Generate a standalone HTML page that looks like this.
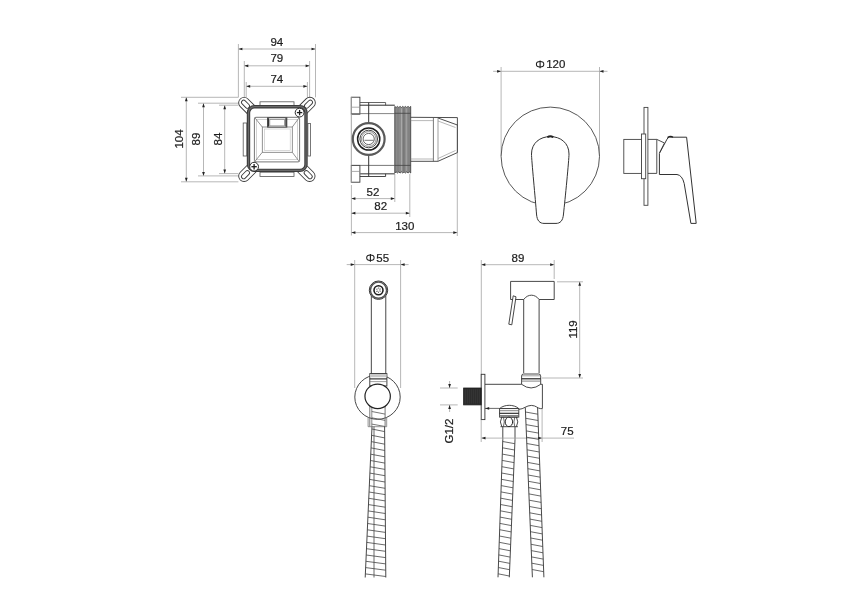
<!DOCTYPE html>
<html><head><meta charset="utf-8"><style>
html,body{margin:0;padding:0;background:#fff;width:866px;height:611px;overflow:hidden}
svg{display:block;filter:blur(0.35px)}
text{font-family:"Liberation Sans",sans-serif}
</style></head><body>
<svg width="866" height="611" viewBox="0 0 866 611">
<rect width="866" height="611" fill="#fff"/>
<line x1="238.40" y1="49.00" x2="315.50" y2="49.00" stroke="#a4a4a4" stroke-width="0.8"/>
<polygon points="238.40,49.00 242.40,47.65 242.40,50.35" fill="#222"/>
<polygon points="315.50,49.00 311.50,50.35 311.50,47.65" fill="#222"/>
<line x1="238.40" y1="44.00" x2="238.40" y2="97.30" stroke="#a4a4a4" stroke-width="0.8"/>
<line x1="315.50" y1="44.00" x2="315.50" y2="97.30" stroke="#a4a4a4" stroke-width="0.8"/>
<text x="276.80" y="45.60" font-size="11.5" text-anchor="middle" fill="#1e1e1e" stroke="#1e1e1e" stroke-width="0.22">94</text>
<line x1="244.30" y1="65.80" x2="309.60" y2="65.80" stroke="#a4a4a4" stroke-width="0.8"/>
<polygon points="244.30,65.80 248.30,64.45 248.30,67.15" fill="#222"/>
<polygon points="309.60,65.80 305.60,67.15 305.60,64.45" fill="#222"/>
<line x1="244.30" y1="61.00" x2="244.30" y2="97.30" stroke="#a4a4a4" stroke-width="0.8"/>
<line x1="309.60" y1="61.00" x2="309.60" y2="97.30" stroke="#a4a4a4" stroke-width="0.8"/>
<text x="276.80" y="62.30" font-size="11.5" text-anchor="middle" fill="#1e1e1e" stroke="#1e1e1e" stroke-width="0.22">79</text>
<line x1="246.20" y1="86.30" x2="307.40" y2="86.30" stroke="#a4a4a4" stroke-width="0.8"/>
<polygon points="246.20,86.30 250.20,84.95 250.20,87.65" fill="#222"/>
<polygon points="307.40,86.30 303.40,87.65 303.40,84.95" fill="#222"/>
<line x1="246.20" y1="82.00" x2="246.20" y2="97.30" stroke="#a4a4a4" stroke-width="0.8"/>
<line x1="307.40" y1="82.00" x2="307.40" y2="97.30" stroke="#a4a4a4" stroke-width="0.8"/>
<text x="276.80" y="83.10" font-size="11.5" text-anchor="middle" fill="#1e1e1e" stroke="#1e1e1e" stroke-width="0.22">74</text>
<line x1="186.30" y1="97.30" x2="186.30" y2="181.80" stroke="#a4a4a4" stroke-width="0.8"/>
<polygon points="186.30,97.30 187.65,101.30 184.95,101.30" fill="#222"/>
<polygon points="186.30,181.80 184.95,177.80 187.65,177.80" fill="#222"/>
<line x1="181.00" y1="97.30" x2="238.40" y2="97.30" stroke="#a4a4a4" stroke-width="0.8"/>
<line x1="181.00" y1="181.80" x2="238.40" y2="181.80" stroke="#a4a4a4" stroke-width="0.8"/>
<text x="183.30" y="139.00" font-size="11.5" text-anchor="middle" fill="#1e1e1e" stroke="#1e1e1e" stroke-width="0.22" transform="rotate(-90 183.30 139.00)">104</text>
<line x1="203.50" y1="103.20" x2="203.50" y2="175.90" stroke="#a4a4a4" stroke-width="0.8"/>
<polygon points="203.50,103.20 204.85,107.20 202.15,107.20" fill="#222"/>
<polygon points="203.50,175.90 202.15,171.90 204.85,171.90" fill="#222"/>
<line x1="198.00" y1="103.20" x2="238.40" y2="103.20" stroke="#a4a4a4" stroke-width="0.8"/>
<line x1="198.00" y1="175.90" x2="238.40" y2="175.90" stroke="#a4a4a4" stroke-width="0.8"/>
<text x="200.20" y="139.00" font-size="11.5" text-anchor="middle" fill="#1e1e1e" stroke="#1e1e1e" stroke-width="0.22" transform="rotate(-90 200.20 139.00)">89</text>
<line x1="224.70" y1="105.20" x2="224.70" y2="173.60" stroke="#a4a4a4" stroke-width="0.8"/>
<polygon points="224.70,105.20 226.05,109.20 223.35,109.20" fill="#222"/>
<polygon points="224.70,173.60 223.35,169.60 226.05,169.60" fill="#222"/>
<line x1="219.00" y1="105.20" x2="238.40" y2="105.20" stroke="#a4a4a4" stroke-width="0.8"/>
<line x1="219.00" y1="173.60" x2="238.40" y2="173.60" stroke="#a4a4a4" stroke-width="0.8"/>
<text x="221.50" y="139.00" font-size="11.5" text-anchor="middle" fill="#1e1e1e" stroke="#1e1e1e" stroke-width="0.22" transform="rotate(-90 221.50 139.00)">84</text>
<path d="M244.10,102.80 L252.59,111.29" stroke="#3a3a3a" stroke-width="11.8" fill="none" stroke-linecap="round"/>
<path d="M244.10,102.80 L252.59,111.29" stroke="#fff" stroke-width="10.0" fill="none" stroke-linecap="round"/>
<path d="M243.68,102.38 L247.35,106.05" stroke="#3a3a3a" stroke-width="5.300000000000001" fill="none" stroke-linecap="round"/>
<path d="M243.68,102.38 L247.35,106.05" stroke="#fff" stroke-width="3.5000000000000004" fill="none" stroke-linecap="round"/>
<path d="M309.90,102.70 L301.41,111.19" stroke="#3a3a3a" stroke-width="11.8" fill="none" stroke-linecap="round"/>
<path d="M309.90,102.70 L301.41,111.19" stroke="#fff" stroke-width="10.0" fill="none" stroke-linecap="round"/>
<path d="M310.32,102.28 L306.65,105.95" stroke="#3a3a3a" stroke-width="5.300000000000001" fill="none" stroke-linecap="round"/>
<path d="M310.32,102.28 L306.65,105.95" stroke="#fff" stroke-width="3.5000000000000004" fill="none" stroke-linecap="round"/>
<path d="M244.10,176.10 L252.59,167.61" stroke="#3a3a3a" stroke-width="11.8" fill="none" stroke-linecap="round"/>
<path d="M244.10,176.10 L252.59,167.61" stroke="#fff" stroke-width="10.0" fill="none" stroke-linecap="round"/>
<path d="M243.68,176.52 L247.35,172.85" stroke="#3a3a3a" stroke-width="5.300000000000001" fill="none" stroke-linecap="round"/>
<path d="M243.68,176.52 L247.35,172.85" stroke="#fff" stroke-width="3.5000000000000004" fill="none" stroke-linecap="round"/>
<path d="M309.60,176.10 L301.11,167.61" stroke="#3a3a3a" stroke-width="11.8" fill="none" stroke-linecap="round"/>
<path d="M309.60,176.10 L301.11,167.61" stroke="#fff" stroke-width="10.0" fill="none" stroke-linecap="round"/>
<path d="M310.02,176.52 L306.35,172.85" stroke="#3a3a3a" stroke-width="5.300000000000001" fill="none" stroke-linecap="round"/>
<path d="M310.02,176.52 L306.35,172.85" stroke="#fff" stroke-width="3.5000000000000004" fill="none" stroke-linecap="round"/>
<rect x="260.00" y="101.80" width="34.00" height="3.70" rx="0" stroke="#555" stroke-width="0.8" fill="none"/>
<rect x="260.00" y="172.20" width="34.00" height="4.40" rx="0" stroke="#555" stroke-width="0.8" fill="none"/>
<rect x="243.20" y="123.00" width="3.60" height="33.00" rx="0" stroke="#555" stroke-width="0.8" fill="none"/>
<rect x="307.90" y="123.50" width="2.50" height="32.50" rx="0" stroke="#555" stroke-width="0.8" fill="none"/>
<rect x="248.50" y="106.70" width="57.50" height="63.70" rx="6" stroke="#3c3c3c" stroke-width="3.4" fill="#fff"/>
<rect x="248.50" y="106.70" width="57.50" height="63.70" rx="6" stroke="#6a6a6a" stroke-width="1.2" fill="none"/>
<rect x="254.40" y="117.30" width="45.20" height="44.60" rx="1.5" stroke="#666" stroke-width="0.9" fill="none"/>
<rect x="256.60" y="119.50" width="40.80" height="40.20" rx="0" stroke="#b5b5b5" stroke-width="0.6" fill="none"/>
<rect x="262.30" y="127.00" width="30.00" height="25.30" rx="0" stroke="#777" stroke-width="0.8" fill="none"/>
<rect x="264.40" y="129.00" width="25.80" height="21.30" rx="0" stroke="#c0c0c0" stroke-width="0.6" fill="none"/>
<line x1="254.80" y1="117.70" x2="262.30" y2="127.00" stroke="#777" stroke-width="0.8"/>
<line x1="299.20" y1="117.70" x2="292.30" y2="127.00" stroke="#777" stroke-width="0.8"/>
<line x1="254.80" y1="161.50" x2="262.30" y2="152.30" stroke="#777" stroke-width="0.8"/>
<line x1="299.20" y1="161.50" x2="292.30" y2="152.30" stroke="#777" stroke-width="0.8"/>
<rect x="267.60" y="117.70" width="19.20" height="9.40" rx="0" stroke="#444" stroke-width="1.0" fill="#fff"/>
<line x1="268.40" y1="118.20" x2="268.40" y2="126.60" stroke="#333" stroke-width="1.4"/>
<line x1="286.00" y1="118.20" x2="286.00" y2="126.60" stroke="#333" stroke-width="1.4"/>
<rect x="269.80" y="119.40" width="14.80" height="6.50" rx="0" stroke="#777" stroke-width="0.7" fill="none"/>
<circle cx="299.60" cy="112.60" r="4.40" stroke="#2a2a2a" stroke-width="1.0" fill="#fff"/>
<line x1="296.90" y1="112.60" x2="302.30" y2="112.60" stroke="#1a1a1a" stroke-width="1.3"/>
<line x1="299.60" y1="109.90" x2="299.60" y2="115.30" stroke="#1a1a1a" stroke-width="1.3"/>
<circle cx="254.10" cy="166.70" r="4.40" stroke="#2a2a2a" stroke-width="1.0" fill="#fff"/>
<line x1="251.40" y1="166.70" x2="256.80" y2="166.70" stroke="#1a1a1a" stroke-width="1.3"/>
<line x1="254.10" y1="164.00" x2="254.10" y2="169.40" stroke="#1a1a1a" stroke-width="1.3"/>
<line x1="351.40" y1="198.60" x2="394.80" y2="198.60" stroke="#a4a4a4" stroke-width="0.8"/>
<polygon points="351.40,198.60 355.40,197.25 355.40,199.95" fill="#222"/>
<polygon points="394.80,198.60 390.80,199.95 390.80,197.25" fill="#222"/>
<line x1="351.40" y1="185.00" x2="351.40" y2="235.50" stroke="#a4a4a4" stroke-width="0.8"/>
<line x1="394.80" y1="174.00" x2="394.80" y2="202.00" stroke="#a4a4a4" stroke-width="0.8"/>
<text x="372.90" y="195.60" font-size="11.5" text-anchor="middle" fill="#1e1e1e" stroke="#1e1e1e" stroke-width="0.22">52</text>
<line x1="351.40" y1="213.20" x2="409.80" y2="213.20" stroke="#a4a4a4" stroke-width="0.8"/>
<polygon points="351.40,213.20 355.40,211.85 355.40,214.55" fill="#222"/>
<polygon points="409.80,213.20 405.80,214.55 405.80,211.85" fill="#222"/>
<line x1="409.80" y1="174.00" x2="409.80" y2="217.00" stroke="#a4a4a4" stroke-width="0.8"/>
<text x="380.70" y="210.30" font-size="11.5" text-anchor="middle" fill="#1e1e1e" stroke="#1e1e1e" stroke-width="0.22">82</text>
<line x1="351.40" y1="232.60" x2="457.30" y2="232.60" stroke="#a4a4a4" stroke-width="0.8"/>
<polygon points="351.40,232.60 355.40,231.25 355.40,233.95" fill="#222"/>
<polygon points="457.30,232.60 453.30,233.95 453.30,231.25" fill="#222"/>
<line x1="457.30" y1="125.00" x2="457.30" y2="236.00" stroke="#a4a4a4" stroke-width="0.8"/>
<text x="404.80" y="229.60" font-size="11.5" text-anchor="middle" fill="#1e1e1e" stroke="#1e1e1e" stroke-width="0.22">130</text>
<rect x="351.30" y="97.20" width="8.60" height="17.00" rx="0" stroke="#3a3a3a" stroke-width="0.9" fill="none"/>
<line x1="351.30" y1="107.20" x2="359.90" y2="107.20" stroke="#888" stroke-width="0.7"/>
<rect x="351.30" y="165.40" width="8.60" height="16.80" rx="0" stroke="#3a3a3a" stroke-width="0.9" fill="none"/>
<line x1="351.30" y1="171.40" x2="359.90" y2="171.40" stroke="#888" stroke-width="0.7"/>
<line x1="351.30" y1="97.10" x2="351.30" y2="182.40" stroke="#a4a4a4" stroke-width="1.0"/>
<path d="M359.9,102.5 L385.6,102.5 L385.6,105.2" stroke="#555" stroke-width="0.9" fill="none"/>
<line x1="359.90" y1="105.20" x2="394.80" y2="105.20" stroke="#2a2a2a" stroke-width="1.0"/>
<line x1="351.30" y1="113.60" x2="394.80" y2="113.60" stroke="#666" stroke-width="0.8"/>
<line x1="351.30" y1="165.40" x2="394.80" y2="165.40" stroke="#555" stroke-width="0.8"/>
<line x1="359.90" y1="173.80" x2="394.80" y2="173.80" stroke="#777" stroke-width="1.4"/>
<path d="M359.9,176.5 L385.6,176.5 L385.6,173.8" stroke="#333" stroke-width="0.9" fill="none"/>
<line x1="368.70" y1="102.50" x2="368.70" y2="123.00" stroke="#333" stroke-width="1.0"/>
<line x1="368.70" y1="155.00" x2="368.70" y2="176.50" stroke="#333" stroke-width="1.0"/>
<circle cx="368.70" cy="139.00" r="15.90" stroke="#5a5a5a" stroke-width="2.2" fill="#fff"/>
<circle cx="368.70" cy="139.00" r="11.10" stroke="#1e1e1e" stroke-width="1.5" fill="none"/>
<circle cx="368.70" cy="139.00" r="8.80" stroke="#444" stroke-width="1.0" fill="none"/>
<circle cx="368.70" cy="139.00" r="7.40" stroke="#777" stroke-width="0.8" fill="none"/>
<circle cx="368.70" cy="139.00" r="5.60" stroke="#555" stroke-width="0.9" fill="none"/>
<line x1="364.50" y1="140.30" x2="373.50" y2="140.30" stroke="#555" stroke-width="0.8"/>
<path d="M394.8,106.4 Q396.12,108.6 397.45,106.4 Q398.77,108.6 400.10,106.4 Q401.43,108.6 402.75,106.4 Q404.07,108.6 405.40,106.4 Q406.73,108.6 408.05,106.4 Q409.38,108.6 410.70,106.4 L410.7,173.0 Q409.38,170.8 408.05,173.0 Q406.73,170.8 405.40,173.0 Q404.07,170.8 402.75,173.0 Q401.43,170.8 400.10,173.0 Q398.77,170.8 397.45,173.0 Q396.12,170.8 394.80,173.0 Z" stroke="#444" stroke-width="0.9" fill="#8a8a8a"/>
<line x1="398.00" y1="108.20" x2="398.00" y2="171.20" stroke="#7a7a7a" stroke-width="0.8"/>
<line x1="401.50" y1="108.20" x2="401.50" y2="171.20" stroke="#b0b0b0" stroke-width="0.8"/>
<line x1="403.90" y1="108.20" x2="403.90" y2="171.20" stroke="#666" stroke-width="0.8"/>
<line x1="406.30" y1="108.20" x2="406.30" y2="171.20" stroke="#aaa" stroke-width="0.8"/>
<line x1="409.00" y1="108.20" x2="409.00" y2="171.20" stroke="#777" stroke-width="0.8"/>
<line x1="394.80" y1="113.30" x2="410.70" y2="113.30" stroke="#444" stroke-width="0.8"/>
<line x1="394.80" y1="165.40" x2="410.70" y2="165.40" stroke="#444" stroke-width="0.8"/>
<path d="M410.7,117.3 L457.4,117.6 L457.4,125.0 L438.0,118.0" stroke="#3a3a3a" stroke-width="0.9" fill="none"/>
<path d="M410.7,161.3 L438.0,161.3 L457.4,152.6 L457.4,125.0" stroke="#3a3a3a" stroke-width="0.9" fill="none"/>
<line x1="433.40" y1="117.40" x2="433.40" y2="161.30" stroke="#555" stroke-width="0.8"/>
<line x1="438.00" y1="118.00" x2="438.00" y2="161.30" stroke="#777" stroke-width="0.7"/>
<line x1="410.70" y1="120.60" x2="433.40" y2="120.60" stroke="#888" stroke-width="0.6"/>
<line x1="410.70" y1="159.00" x2="433.40" y2="159.00" stroke="#888" stroke-width="0.6"/>
<line x1="438.00" y1="121.00" x2="455.50" y2="127.50" stroke="#888" stroke-width="0.6"/>
<line x1="438.00" y1="158.50" x2="455.50" y2="150.50" stroke="#888" stroke-width="0.6"/>
<line x1="493.10" y1="71.30" x2="607.50" y2="71.30" stroke="#a4a4a4" stroke-width="0.8"/>
<polygon points="501.10,71.30 497.10,72.65 497.10,69.95" fill="#222"/>
<polygon points="599.50,71.30 603.50,69.95 603.50,72.65" fill="#222"/>
<line x1="501.10" y1="67.00" x2="501.10" y2="156.00" stroke="#a4a4a4" stroke-width="0.8"/>
<line x1="599.50" y1="67.00" x2="599.50" y2="156.00" stroke="#a4a4a4" stroke-width="0.8"/>
<ellipse cx="540.1" cy="64.3" rx="3.7" ry="2.75" stroke="#1e1e1e" stroke-width="1.05" fill="none"/>
<line x1="540.10" y1="60.40" x2="540.10" y2="68.20" stroke="#1e1e1e" stroke-width="1.1"/>
<text x="565.40" y="68.20" font-size="11.5" text-anchor="end" fill="#1e1e1e" stroke="#1e1e1e" stroke-width="0.22">120</text>
<circle cx="550.30" cy="156.30" r="49.20" stroke="#444" stroke-width="0.9" fill="#fff"/>
<path d="M550.3,136.6 C540,136.6 531.5,143 531.5,154 C531.5,160 535.5,200 536.5,214 C537,221 540,223.4 544,223.4 L556,223.4 C560,223.4 563,221 563.5,214 C565,200 569,160 569,154 C569,143 560.6,136.6 550.3,136.6 Z" stroke="#333" stroke-width="1.0" fill="#fff"/>
<path d="M547.3,137.3 Q550.3,135.0 553.3,137.3" stroke="#222" stroke-width="1.9" fill="none"/>
<rect x="644.00" y="107.40" width="3.90" height="97.90" rx="0" stroke="#444" stroke-width="0.9" fill="#fff"/>
<rect x="641.50" y="134.00" width="4.20" height="44.70" rx="0" stroke="#444" stroke-width="0.9" fill="#fff"/>
<rect x="623.80" y="139.40" width="17.70" height="34.00" rx="0" stroke="#444" stroke-width="0.9" fill="#fff"/>
<path d="M647.9,139.4 L656.8,139.4 L656.8,173.4 L647.9,173.4" stroke="#3a3a3a" stroke-width="0.9" fill="none"/>
<path d="M656.8,139.4 L664.5,143 L659.4,153" stroke="#3a3a3a" stroke-width="0.9" fill="none"/>
<path d="M669.5,137.2 L686.6,137.2 L696.2,223.4 L690.9,223.4 L684.2,183.5 Q682.2,175.2 677.0,174.5 L659.4,174.5 L659.4,153.5 L667.0,139.2 Q667.8,137.4 669.5,137.2 Z" stroke="#333" stroke-width="1.0" fill="#fff"/>
<path d="M667.5,137.6 Q670.5,135.5 673,137.2" stroke="#222" stroke-width="1.3" fill="none"/>
<line x1="346.70" y1="264.60" x2="408.60" y2="264.60" stroke="#a4a4a4" stroke-width="0.8"/>
<polygon points="354.70,264.60 350.70,265.95 350.70,263.25" fill="#222"/>
<polygon points="400.60,264.60 404.60,263.25 404.60,265.95" fill="#222"/>
<line x1="354.70" y1="260.00" x2="354.70" y2="388.00" stroke="#a4a4a4" stroke-width="0.8"/>
<line x1="400.60" y1="260.00" x2="400.60" y2="388.00" stroke="#a4a4a4" stroke-width="0.8"/>
<ellipse cx="370.4" cy="257.8" rx="3.7" ry="2.75" stroke="#1e1e1e" stroke-width="1.05" fill="none"/>
<line x1="370.40" y1="253.90" x2="370.40" y2="261.70" stroke="#1e1e1e" stroke-width="1.1"/>
<text x="389.10" y="261.80" font-size="11.5" text-anchor="end" fill="#1e1e1e" stroke="#1e1e1e" stroke-width="0.22">55</text>
<ellipse cx="377.5" cy="397.1" rx="22.7" ry="22.2" stroke="#333" stroke-width="0.9" fill="#fff"/>
<rect x="371.30" y="296.00" width="14.50" height="78.00" rx="0" stroke="#333" stroke-width="0.9" fill="#fff"/>
<circle cx="378.50" cy="290.20" r="9.20" stroke="#333" stroke-width="1.0" fill="#fff"/>
<circle cx="378.50" cy="290.20" r="8.10" stroke="#555" stroke-width="1.5" fill="none"/>
<circle cx="378.50" cy="290.20" r="4.50" stroke="#1e1e1e" stroke-width="1.6" fill="#fff"/>
<line x1="379.70" y1="290.20" x2="380.81" y2="291.78" stroke="#444" stroke-width="0.7"/>
<line x1="379.10" y1="291.24" x2="378.29" y2="292.99" stroke="#444" stroke-width="0.7"/>
<line x1="377.90" y1="291.24" x2="375.98" y2="291.41" stroke="#444" stroke-width="0.7"/>
<line x1="377.30" y1="290.20" x2="376.19" y2="288.62" stroke="#444" stroke-width="0.7"/>
<line x1="377.90" y1="289.16" x2="378.71" y2="287.41" stroke="#444" stroke-width="0.7"/>
<line x1="379.10" y1="289.16" x2="381.02" y2="288.99" stroke="#444" stroke-width="0.7"/>
<rect x="369.80" y="373.60" width="17.10" height="12.40" rx="0" stroke="#333" stroke-width="0.9" fill="#fff"/>
<rect x="370.3" y="374.0" width="16.1" height="3.2" fill="#c8c8c8"/>
<line x1="369.80" y1="378.90" x2="386.90" y2="378.90" stroke="#222" stroke-width="1.1"/>
<line x1="369.80" y1="381.60" x2="386.90" y2="381.60" stroke="#777" stroke-width="0.7"/>
<line x1="369.80" y1="406.00" x2="369.80" y2="426.50" stroke="#555" stroke-width="0.8"/>
<line x1="371.80" y1="406.00" x2="371.80" y2="426.50" stroke="#555" stroke-width="0.7"/>
<line x1="385.10" y1="406.00" x2="385.10" y2="426.50" stroke="#555" stroke-width="0.8"/>
<line x1="371.80" y1="411.50" x2="385.10" y2="414.10" stroke="#555" stroke-width="0.8"/>
<line x1="371.80" y1="417.80" x2="385.10" y2="420.40" stroke="#555" stroke-width="0.8"/>
<line x1="371.80" y1="424.10" x2="385.10" y2="426.50" stroke="#555" stroke-width="0.8"/>
<ellipse cx="377.65" cy="396.35" rx="12.7" ry="12.3" stroke="#222" stroke-width="1.2" fill="#fff"/>
<path d="M368.1,417.5 L368.1,426.7 L386.7,426.7 L386.7,417.5" stroke="#777" stroke-width="0.8" fill="none"/>
<path d="M372.00,426.50 L365.20,577.50" stroke="#333" stroke-width="0.9" fill="none"/>
<path d="M384.60,426.50 L385.80,577.50" stroke="#333" stroke-width="0.9" fill="none"/>
<path d="M374.00,426.50 L374.00,577.50" stroke="#444" stroke-width="0.8" fill="none"/>
<line x1="371.89" y1="429.00" x2="384.64" y2="431.60" stroke="#444" stroke-width="0.8"/>
<line x1="371.60" y1="435.30" x2="384.69" y2="437.90" stroke="#444" stroke-width="0.8"/>
<line x1="371.32" y1="441.60" x2="384.74" y2="444.20" stroke="#444" stroke-width="0.8"/>
<line x1="371.04" y1="447.90" x2="384.79" y2="450.50" stroke="#444" stroke-width="0.8"/>
<line x1="370.75" y1="454.20" x2="384.84" y2="456.80" stroke="#444" stroke-width="0.8"/>
<line x1="370.47" y1="460.50" x2="384.89" y2="463.10" stroke="#444" stroke-width="0.8"/>
<line x1="370.19" y1="466.80" x2="384.94" y2="469.40" stroke="#444" stroke-width="0.8"/>
<line x1="369.90" y1="473.10" x2="384.99" y2="475.70" stroke="#444" stroke-width="0.8"/>
<line x1="369.62" y1="479.40" x2="385.04" y2="482.00" stroke="#444" stroke-width="0.8"/>
<line x1="369.33" y1="485.70" x2="385.09" y2="488.30" stroke="#444" stroke-width="0.8"/>
<line x1="369.05" y1="492.00" x2="385.14" y2="494.60" stroke="#444" stroke-width="0.8"/>
<line x1="368.77" y1="498.30" x2="385.19" y2="500.90" stroke="#444" stroke-width="0.8"/>
<line x1="368.48" y1="504.60" x2="385.24" y2="507.20" stroke="#444" stroke-width="0.8"/>
<line x1="368.20" y1="510.90" x2="385.29" y2="513.50" stroke="#444" stroke-width="0.8"/>
<line x1="367.92" y1="517.20" x2="385.34" y2="519.80" stroke="#444" stroke-width="0.8"/>
<line x1="367.63" y1="523.50" x2="385.39" y2="526.10" stroke="#444" stroke-width="0.8"/>
<line x1="367.35" y1="529.80" x2="385.44" y2="532.40" stroke="#444" stroke-width="0.8"/>
<line x1="367.06" y1="536.10" x2="385.49" y2="538.70" stroke="#444" stroke-width="0.8"/>
<line x1="366.78" y1="542.40" x2="385.54" y2="545.00" stroke="#444" stroke-width="0.8"/>
<line x1="366.50" y1="548.70" x2="385.59" y2="551.30" stroke="#444" stroke-width="0.8"/>
<line x1="366.21" y1="555.00" x2="385.64" y2="557.60" stroke="#444" stroke-width="0.8"/>
<line x1="365.93" y1="561.30" x2="385.69" y2="563.90" stroke="#444" stroke-width="0.8"/>
<line x1="365.65" y1="567.60" x2="385.74" y2="570.20" stroke="#444" stroke-width="0.8"/>
<line x1="365.36" y1="573.90" x2="385.79" y2="576.50" stroke="#444" stroke-width="0.8"/>
<line x1="481.30" y1="264.70" x2="554.20" y2="264.70" stroke="#a4a4a4" stroke-width="0.8"/>
<polygon points="481.30,264.70 485.30,263.35 485.30,266.05" fill="#222"/>
<polygon points="554.20,264.70 550.20,266.05 550.20,263.35" fill="#222"/>
<line x1="481.30" y1="260.00" x2="481.30" y2="410.00" stroke="#a4a4a4" stroke-width="0.8"/>
<line x1="554.20" y1="260.00" x2="554.20" y2="279.00" stroke="#a4a4a4" stroke-width="0.8"/>
<text x="517.90" y="261.50" font-size="11.5" text-anchor="middle" fill="#1e1e1e" stroke="#1e1e1e" stroke-width="0.22">89</text>
<line x1="579.70" y1="281.80" x2="579.70" y2="378.00" stroke="#a4a4a4" stroke-width="0.8"/>
<polygon points="579.70,281.80 581.05,285.80 578.35,285.80" fill="#222"/>
<polygon points="579.70,378.00 578.35,374.00 581.05,374.00" fill="#222"/>
<line x1="557.00" y1="281.80" x2="583.00" y2="281.80" stroke="#a4a4a4" stroke-width="0.8"/>
<line x1="542.00" y1="378.00" x2="583.00" y2="378.00" stroke="#a4a4a4" stroke-width="0.8"/>
<text x="577.00" y="329.40" font-size="11.5" text-anchor="middle" fill="#1e1e1e" stroke="#1e1e1e" stroke-width="0.22" transform="rotate(-90 577.00 329.40)">119</text>
<path d="M510.6,281.4 L554.2,281.4 L554.2,299.5 L539.1,299.5 C537,296.5 534,295.2 531.4,295.2 C528.8,295.2 525.8,296.5 523.7,299.5 L510.6,299.5 Z" stroke="#333" stroke-width="0.9" fill="#fff"/>
<path d="M513.2,295.8 L516.0,296.8 L511.8,324.8 L508.8,324.2 Z" stroke="#333" stroke-width="0.9" fill="#fff"/>
<path d="M523.7,299.5 L523.7,373.1 M539.1,299.5 L539.1,373.1" stroke="#333" stroke-width="0.9" fill="none"/>
<path d="M521.6,384.3 L521.6,376.0 Q521.6,374.0 523.6,374.0 L538.7,374.0 Q540.7,374.0 540.7,376.0 L540.7,384.3 Q531.1,391.6 521.6,384.3 Z" stroke="#333" stroke-width="0.9" fill="#fff"/>
<line x1="521.60" y1="375.80" x2="540.70" y2="375.80" stroke="#888" stroke-width="0.8"/>
<line x1="521.60" y1="378.80" x2="540.70" y2="378.80" stroke="#222" stroke-width="1.2"/>
<line x1="521.60" y1="381.10" x2="540.70" y2="381.10" stroke="#666" stroke-width="0.8"/>
<path d="M484.9,384.3 L521.6,384.3 M540.7,384.3 L542.4,384.3 L542.4,408.6 L540.4,408.6 C538,408.6 536,405.4 531.3,405.4 C526.5,405.4 523.5,409.3 519.0,409.3" stroke="#333" stroke-width="0.9" fill="none"/>
<line x1="484.90" y1="408.40" x2="499.60" y2="408.40" stroke="#444" stroke-width="0.8"/>
<polygon points="485.20,408.40 489.20,407.10 489.20,409.70" fill="#222"/>
<rect x="481.20" y="374.30" width="3.70" height="45.30" rx="0" stroke="#333" stroke-width="0.9" fill="#fff"/>
<rect x="463.60" y="388.00" width="17.60" height="16.90" rx="0" stroke="#222" stroke-width="0.8" fill="#262626"/>
<line x1="465.20" y1="389.20" x2="465.20" y2="403.70" stroke="#4a4a4a" stroke-width="0.6"/>
<line x1="467.20" y1="389.20" x2="467.20" y2="403.70" stroke="#4a4a4a" stroke-width="0.6"/>
<line x1="469.20" y1="389.20" x2="469.20" y2="403.70" stroke="#4a4a4a" stroke-width="0.6"/>
<line x1="471.20" y1="389.20" x2="471.20" y2="403.70" stroke="#4a4a4a" stroke-width="0.6"/>
<line x1="473.20" y1="389.20" x2="473.20" y2="403.70" stroke="#4a4a4a" stroke-width="0.6"/>
<line x1="475.20" y1="389.20" x2="475.20" y2="403.70" stroke="#4a4a4a" stroke-width="0.6"/>
<line x1="477.20" y1="389.20" x2="477.20" y2="403.70" stroke="#4a4a4a" stroke-width="0.6"/>
<line x1="479.20" y1="389.20" x2="479.20" y2="403.70" stroke="#4a4a4a" stroke-width="0.6"/>
<line x1="440.00" y1="388.00" x2="457.70" y2="388.00" stroke="#a4a4a4" stroke-width="0.8"/>
<line x1="440.00" y1="404.90" x2="457.70" y2="404.90" stroke="#a4a4a4" stroke-width="0.8"/>
<line x1="449.60" y1="381.00" x2="449.60" y2="388.00" stroke="#a4a4a4" stroke-width="0.8"/>
<polygon points="449.60,388.00 448.25,384.00 450.95,384.00" fill="#222"/>
<line x1="449.60" y1="405.00" x2="449.60" y2="412.00" stroke="#a4a4a4" stroke-width="0.8"/>
<polygon points="449.60,404.90 450.95,408.90 448.25,408.90" fill="#222"/>
<text x="453.00" y="431.00" font-size="11.5" text-anchor="middle" fill="#1e1e1e" stroke="#1e1e1e" stroke-width="0.22" transform="rotate(-90 453.00 431.00)">G1/2</text>
<path d="M499.6,408.6 C502,406.3 506,405.3 509.2,405.3 C512.4,405.3 516.4,406.3 518.8,408.6 Z" stroke="#333" stroke-width="0.9" fill="#fff"/>
<rect x="499.60" y="408.60" width="19.20" height="8.50" rx="0" stroke="#333" stroke-width="0.9" fill="#fff"/>
<line x1="499.60" y1="410.70" x2="518.80" y2="410.70" stroke="#666" stroke-width="0.8"/>
<line x1="499.60" y1="413.30" x2="518.80" y2="413.30" stroke="#222" stroke-width="1.1"/>
<line x1="499.60" y1="415.50" x2="518.80" y2="415.50" stroke="#666" stroke-width="0.8"/>
<line x1="500.50" y1="417.10" x2="517.90" y2="417.10" stroke="#333" stroke-width="0.9"/>
<line x1="500.50" y1="426.70" x2="517.90" y2="426.70" stroke="#333" stroke-width="0.9"/>
<ellipse cx="508.9" cy="421.9" rx="3.7" ry="4.7" stroke="#222" stroke-width="1.0" fill="#fff"/>
<path d="M501.8,417.1 Q499.0,421.9 501.8,426.7" stroke="#333" stroke-width="0.9" fill="none"/>
<path d="M503.4,417.1 Q505.2,421.9 503.4,426.7" stroke="#444" stroke-width="0.8" fill="none"/>
<path d="M516.4,417.1 Q519.2,421.9 516.4,426.7" stroke="#333" stroke-width="0.9" fill="none"/>
<path d="M514.8,417.1 Q513.0,421.9 514.8,426.7" stroke="#444" stroke-width="0.8" fill="none"/>
<path d="M502.8,426.7 L502.8,439.6 M515.0,426.7 L515.0,439.6" stroke="#333" stroke-width="0.9" fill="none"/>
<line x1="481.50" y1="438.10" x2="574.00" y2="438.10" stroke="#a4a4a4" stroke-width="0.8"/>
<polygon points="481.50,438.10 485.50,436.75 485.50,439.45" fill="#222"/>
<polygon points="542.10,438.10 538.10,439.45 538.10,436.75" fill="#222"/>
<line x1="542.10" y1="408.60" x2="542.10" y2="442.00" stroke="#a4a4a4" stroke-width="0.8"/>
<line x1="481.20" y1="419.60" x2="481.20" y2="442.00" stroke="#a4a4a4" stroke-width="0.8"/>
<text x="567.20" y="434.60" font-size="11.5" text-anchor="middle" fill="#1e1e1e" stroke="#1e1e1e" stroke-width="0.22">75</text>
<path d="M502.80,439.60 L498.00,577.30" stroke="#333" stroke-width="0.9" fill="none"/>
<path d="M515.00,439.60 L509.30,577.30" stroke="#333" stroke-width="0.9" fill="none"/>
<line x1="502.73" y1="441.50" x2="514.83" y2="443.70" stroke="#444" stroke-width="0.8"/>
<line x1="502.51" y1="447.80" x2="514.57" y2="450.00" stroke="#444" stroke-width="0.8"/>
<line x1="502.29" y1="454.10" x2="514.31" y2="456.30" stroke="#444" stroke-width="0.8"/>
<line x1="502.07" y1="460.40" x2="514.05" y2="462.60" stroke="#444" stroke-width="0.8"/>
<line x1="501.86" y1="466.70" x2="513.79" y2="468.90" stroke="#444" stroke-width="0.8"/>
<line x1="501.64" y1="473.00" x2="513.53" y2="475.20" stroke="#444" stroke-width="0.8"/>
<line x1="501.42" y1="479.30" x2="513.27" y2="481.50" stroke="#444" stroke-width="0.8"/>
<line x1="501.20" y1="485.60" x2="513.00" y2="487.80" stroke="#444" stroke-width="0.8"/>
<line x1="500.98" y1="491.90" x2="512.74" y2="494.10" stroke="#444" stroke-width="0.8"/>
<line x1="500.76" y1="498.20" x2="512.48" y2="500.40" stroke="#444" stroke-width="0.8"/>
<line x1="500.54" y1="504.50" x2="512.22" y2="506.70" stroke="#444" stroke-width="0.8"/>
<line x1="500.32" y1="510.80" x2="511.96" y2="513.00" stroke="#444" stroke-width="0.8"/>
<line x1="500.10" y1="517.10" x2="511.70" y2="519.30" stroke="#444" stroke-width="0.8"/>
<line x1="499.88" y1="523.40" x2="511.44" y2="525.60" stroke="#444" stroke-width="0.8"/>
<line x1="499.66" y1="529.70" x2="511.18" y2="531.90" stroke="#444" stroke-width="0.8"/>
<line x1="499.44" y1="536.00" x2="510.92" y2="538.20" stroke="#444" stroke-width="0.8"/>
<line x1="499.22" y1="542.30" x2="510.66" y2="544.50" stroke="#444" stroke-width="0.8"/>
<line x1="499.00" y1="548.60" x2="510.40" y2="550.80" stroke="#444" stroke-width="0.8"/>
<line x1="498.78" y1="554.90" x2="510.14" y2="557.10" stroke="#444" stroke-width="0.8"/>
<line x1="498.56" y1="561.20" x2="509.88" y2="563.40" stroke="#444" stroke-width="0.8"/>
<line x1="498.34" y1="567.50" x2="509.61" y2="569.70" stroke="#444" stroke-width="0.8"/>
<line x1="498.12" y1="573.80" x2="509.35" y2="576.00" stroke="#444" stroke-width="0.8"/>
<path d="M525.30,407.60 L532.40,577.30" stroke="#333" stroke-width="0.9" fill="none"/>
<path d="M537.60,407.60 L543.90,577.30" stroke="#333" stroke-width="0.9" fill="none"/>
<line x1="525.48" y1="412.00" x2="537.85" y2="414.20" stroke="#444" stroke-width="0.8"/>
<line x1="525.75" y1="418.30" x2="538.08" y2="420.50" stroke="#444" stroke-width="0.8"/>
<line x1="526.01" y1="424.60" x2="538.31" y2="426.80" stroke="#444" stroke-width="0.8"/>
<line x1="526.27" y1="430.90" x2="538.55" y2="433.10" stroke="#444" stroke-width="0.8"/>
<line x1="526.54" y1="437.20" x2="538.78" y2="439.40" stroke="#444" stroke-width="0.8"/>
<line x1="526.80" y1="443.50" x2="539.01" y2="445.70" stroke="#444" stroke-width="0.8"/>
<line x1="527.07" y1="449.80" x2="539.25" y2="452.00" stroke="#444" stroke-width="0.8"/>
<line x1="527.33" y1="456.10" x2="539.48" y2="458.30" stroke="#444" stroke-width="0.8"/>
<line x1="527.59" y1="462.40" x2="539.72" y2="464.60" stroke="#444" stroke-width="0.8"/>
<line x1="527.86" y1="468.70" x2="539.95" y2="470.90" stroke="#444" stroke-width="0.8"/>
<line x1="528.12" y1="475.00" x2="540.18" y2="477.20" stroke="#444" stroke-width="0.8"/>
<line x1="528.38" y1="481.30" x2="540.42" y2="483.50" stroke="#444" stroke-width="0.8"/>
<line x1="528.65" y1="487.60" x2="540.65" y2="489.80" stroke="#444" stroke-width="0.8"/>
<line x1="528.91" y1="493.90" x2="540.89" y2="496.10" stroke="#444" stroke-width="0.8"/>
<line x1="529.17" y1="500.20" x2="541.12" y2="502.40" stroke="#444" stroke-width="0.8"/>
<line x1="529.44" y1="506.50" x2="541.35" y2="508.70" stroke="#444" stroke-width="0.8"/>
<line x1="529.70" y1="512.80" x2="541.59" y2="515.00" stroke="#444" stroke-width="0.8"/>
<line x1="529.96" y1="519.10" x2="541.82" y2="521.30" stroke="#444" stroke-width="0.8"/>
<line x1="530.23" y1="525.40" x2="542.05" y2="527.60" stroke="#444" stroke-width="0.8"/>
<line x1="530.49" y1="531.70" x2="542.29" y2="533.90" stroke="#444" stroke-width="0.8"/>
<line x1="530.76" y1="538.00" x2="542.52" y2="540.20" stroke="#444" stroke-width="0.8"/>
<line x1="531.02" y1="544.30" x2="542.76" y2="546.50" stroke="#444" stroke-width="0.8"/>
<line x1="531.28" y1="550.60" x2="542.99" y2="552.80" stroke="#444" stroke-width="0.8"/>
<line x1="531.55" y1="556.90" x2="543.22" y2="559.10" stroke="#444" stroke-width="0.8"/>
<line x1="531.81" y1="563.20" x2="543.46" y2="565.40" stroke="#444" stroke-width="0.8"/>
<line x1="532.07" y1="569.50" x2="543.69" y2="571.70" stroke="#444" stroke-width="0.8"/>
</svg></body></html>
